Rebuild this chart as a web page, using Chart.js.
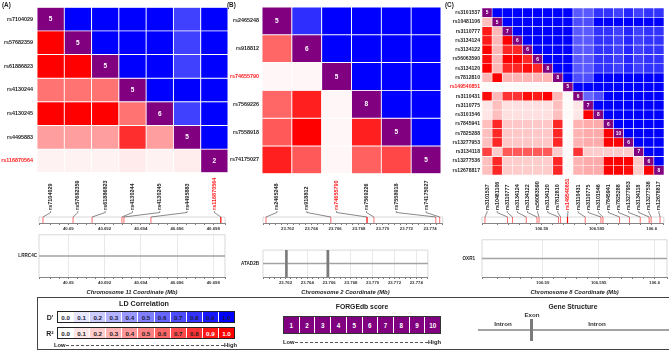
<!DOCTYPE html>
<html><head><meta charset="utf-8">
<script src="https://cdn.jsdelivr.net/npm/chart.js@4.4.1/dist/chart.umd.min.js"></script>
<style>
html,body{margin:0;padding:0;background:#fff;}
body{width:669px;height:351px;position:relative;overflow:hidden;font-family:"Liberation Sans",Arial,sans-serif;}
canvas{position:absolute;}
.t{position:absolute;font-weight:bold;color:#222;white-space:nowrap;line-height:1;}
</style></head><body>
<script>
// ---------------- DATA ----------------
// Panel A (chr11, LRRC4C)
const snpsA = ['rs7104029','rs57682359','rs61886823','rs4130244','rs4130245','rs4495883','rs116870564'];
const posA = [40.68860,40.69026,40.69131,40.69296,40.69307,40.69456,40.69842];
const forgeA = [5,5,5,5,6,5,2];
const ldA = [ // upper triangle = D', lower triangle = R2
  [null,1,1,1,1,0.75,1],
  [1,null,1,1,1,0.75,1],
  [1,1,null,1,1,0.75,1],
  [0.55,0.55,0.55,null,1,1,1],
  [1,1,1,0.55,null,0.75,1],
  [0.38,0.38,0.38,0.82,0.38,null,1],
  [0.05,0.05,0.05,0.08,0.05,0.07,null]
];
const rangeA = [40.68838,40.69865];
const ticksA = [40.69,40.692,40.694,40.696,40.698];
const tickLabelsA = ['40.69','40.692','40.694','40.696','40.698'];
const geneA = 'LRRC4C';
const exonsA = [];
const titleA = 'Chromosome 11 Coordinate (Mb)';

// Panel B (chr2, ATAD2B)
const snpsB = ['rs2465248','rs918812','rs74655790','rs7569226','rs7558918','rs74175027'];
const posB = [23.76018,23.76564,23.76869,23.76927,23.77448,23.77481];
const forgeB = [5,6,5,8,5,5];
const ldB = [
  [null,0.82,1,1,1,1],
  [0.6,null,1,1,1,1],
  [0.03,0.03,null,1,1,1],
  [0.6,0.88,0.03,null,1,1],
  [0.65,1,0.03,0.88,null,1],
  [0.88,0.65,0.03,0.62,0.72,null]
];
const rangeB = [23.75993,23.77507];
const ticksB = [23.762,23.764,23.766,23.768,23.770,23.772,23.774];
const tickLabelsB = ['23.762','23.764','23.766','23.768','23.770','23.772','23.774'];
const geneB = 'ATAD2B';
const exonsB = [23.76208,23.76588];
const titleB = 'Chromosome 2 Coordinate (Mb)';

// Panel C (chr8, OXR1)
const snpsC = ['rs3101537','rs10481106','rs3110777','rs3134124','rs3134122','rs56063590','rs3134120','rs7812810','rs149540851',
  'rs3110431','rs3110775','rs3101546','rs7845941','rs7825288','rs13277953','rs3134118','rs13277536','rs12678817'];
const posC = [106.58485,106.58690,106.58735,106.58860,106.58958,106.58976,106.59154,106.59172,106.59235,
  106.59396,106.59539,106.59557,106.59708,106.59798,106.59896,106.59977,106.59995,106.60076];
const forgeC = [5,5,7,6,6,6,8,8,5,6,7,8,6,10,6,7,6,8];
const ldC = [
  [null,1,1,1,1,1,1,1,1,0.65,0.65,0.8,0.8,0.75,0.85,0.75,0.8,0.8],
  [0.25,null,1,1,1,1,1,1,1,0.7,0.7,1,1,1,1,1,1,1],
  [0.9,0.28,null,1,1,1,1,1,1,0.65,0.65,0.8,0.8,0.75,0.85,0.75,0.8,0.8],
  [0.9,0.28,1,null,1,1,1,1,1,0.65,0.65,0.8,0.8,0.75,0.85,0.75,0.8,0.8],
  [1,0.28,0.85,0.85,null,1,1,1,1,0.65,0.65,0.8,0.8,0.75,0.85,0.75,0.8,0.8],
  [0.95,0.28,1,1,0.85,null,1,1,1,0.65,0.65,0.8,0.8,0.75,0.85,0.75,0.8,0.8],
  [1,0.28,0.85,0.85,0.95,0.85,null,1,1,0.65,0.65,0.8,0.8,0.75,0.85,0.75,0.8,0.8],
  [0.28,1,0.3,0.3,0.3,0.3,0.3,null,1,0.7,0.7,1,1,1,1,1,1,1],
  [0.02,0.02,0.02,0.02,0.02,0.02,0.02,0.02,null,1,1,1,1,1,1,1,1,1],
  [0.95,0.28,0.8,0.8,0.95,0.9,1,0.28,0.02,null,0.6,0.7,1,1,1,1,1,1],
  [0.1,0.25,0.12,0.12,0.12,0.12,0.12,0.25,0.02,0.1,null,1,1,1,1,1,1,1],
  [0.1,0.25,0.12,0.12,0.12,0.12,0.12,0.25,0.02,0.1,1,null,1,1,1,1,1,1],
  [0.25,0.85,0.22,0.22,0.22,0.22,0.22,0.85,0.02,0.3,0.33,0.33,null,1,1,1,1,1],
  [0.25,0.85,0.22,0.22,0.22,0.22,0.22,0.85,0.02,0.3,0.33,0.33,1,null,1,1,1,1],
  [0.25,0.85,0.22,0.22,0.22,0.22,0.22,0.85,0.02,0.3,0.33,0.33,1,1,null,1,1,1],
  [0.75,0.2,0.65,0.65,0.65,0.65,0.65,0.2,0.02,0.8,0.2,0.2,0.2,0.2,0.2,null,1,1],
  [0.25,0.85,0.2,0.2,0.2,0.2,0.2,0.85,0.02,0.3,0.33,0.33,1,1,1,0.22,null,1],
  [0.25,0.85,0.2,0.2,0.2,0.2,0.2,0.85,0.02,0.3,0.33,0.33,1,1,0.95,0.2,1,null]
];
const rangeC = [106.58458,106.6011];
const ticksC = [106.585,106.59,106.595,106.6];
const tickLabelsC = ['106.585','106.59','106.595','106.6'];
const geneC = 'OXR1';
const exonsC = [];
const titleC = 'Chromosome 8 Coordinate (Mb)';

// Legend scales
const ldSteps = [0.0,0.1,0.2,0.3,0.4,0.5,0.6,0.7,0.8,0.9,1.0];
const forgeSteps = [1,2,3,4,5,6,7,8,9,10];

// ---------------- RENDER ----------------
const FONT = '"Liberation Sans", Arial, sans-serif';
Chart.defaults.font.family = FONT;
const PURPLE = '#800080';
const RED_TXT = '#ff1a1a';

function mk(left, top, w, h){
  const c = document.createElement('canvas');
  c.width = w; c.height = h;
  c.style.left = left+'px'; c.style.top = top+'px';
  c.style.width = w+'px'; c.style.height = h+'px';
  document.body.appendChild(c);
  return c;
}
function txt(s, x, y, size, opt){
  opt = opt || {};
  const d = document.createElement('div');
  d.className = 't';
  d.textContent = s;
  d.style.fontSize = size+'px';
  d.style.left = x+'px'; d.style.top = y+'px';
  const ax = opt.align==='left' ? '0' : (opt.align==='right' ? '-100%' : '-50%');
  d.style.transform = `translate(${ax},-50%)`;
  if (opt.color) d.style.color = opt.color;
  if (opt.weight) d.style.fontWeight = opt.weight;
  document.body.appendChild(d);
  return d;
}
function heatColor(r, c, v){
  if (r === c) return PURPLE;
  const k = Math.round(255*(1-v));
  return c > r ? `rgb(${k},${k},255)` : `rgb(255,${k},${k})`;
}
const baseOpts = {responsive:false, animation:false, devicePixelRatio:1, events:[],
  plugins:{legend:{display:false}, tooltip:{enabled:false}}};

function makeHeat(p){
  const L = p.L.heat, n = p.snps.length;
  const cv = mk(L.left, 0, L.w, 180);
  const datasets = p.ld.map((row, r) => ({
    data: row.map(() => [r-0.5, r+0.5]),
    backgroundColor: row.map((v, c) => heatColor(r, c, v)),
    borderColor:'#ffffff', borderWidth:p.gap, borderSkipped:false,
    barPercentage:1, categoryPercentage:1, grouped:false
  }));
  return new Chart(cv, {
    type:'bar',
    data:{labels:p.snps, datasets},
    options:Object.assign({}, baseOpts, {
      layout:{padding:{top:L.top, right:L.right, bottom:L.bottom, left:0}},
      scales:{
        x:{type:'category', display:false, offset:true},
        y:{type:'linear', reverse:true, min:-0.5, max:n-0.5,
          afterBuildTicks:s => { s.ticks = p.snps.map((_, i) => ({value:i})); },
          afterFit:s => { s.width = L.yw; },
          grid:{display:false, drawTicks:false}, border:{display:false},
          ticks:{padding:L.pad, font:{size:p.rowFont, weight:'bold'},
            color:ctx => (ctx.tick && Math.round(ctx.tick.value) === p.lead) ? RED_TXT : '#1e1e1e',
            callback:v => p.snps[Math.round(v)]}
        }
      }
    }),
    plugins:[{id:'diag', afterDatasetsDraw(ch){
      const ctx = ch.ctx; ctx.save();
      ctx.fillStyle = '#fff'; ctx.font = `bold ${p.diagFont}px ${FONT}`;
      ctx.textAlign = 'center'; ctx.textBaseline = 'middle';
      p.forge.forEach((f, i) => {
        const el = ch.getDatasetMeta(i).data[i];
        ctx.fillText(String(f), el.x, (el.y + el.base)/2 + 0.3);
      });
      ctx.restore();
    }}]
  });
}

function isMajor(p, v){ return p.majors.some(m => Math.abs(m - v) < p.minor/10); }
function axisX(p, gene){
  return {type:'linear', min:p.range[0], max:p.range[1],
    afterFit:s => { s.height = gene ? 23 : 9; },
    ticks:{stepSize:p.minor, autoSkip:false, maxRotation:0, minRotation:0, padding:1,
      font:{size:4.3, weight:'bold'}, color:'#333',
      callback:v => { const k = p.majors.findIndex(m => Math.abs(m - v) < p.minor/10); return k < 0 ? '' : p.majorLabels[k]; }},
    grid:{drawOnChartArea:gene, drawTicks:true, tickLength:2, lineWidth:0.8,
      color:ctx => (ctx.tick && isMajor(p, ctx.tick.value)) ? '#e3e3e3' : 'rgba(0,0,0,0)',
      tickColor:'#555'},
    border:{color:'#666', width:0.8},
    title: gene ? {display:true, text:p.title, color:'#1e1e1e', font:{size:5.8, weight:'bold', style:'italic'}, padding:{top:1, bottom:4}} : {display:false}
  };
}
const boxPlugin = {id:'box', beforeDatasetsDraw(ch){
  const a = ch.chartArea, ctx = ch.ctx; ctx.save();
  ctx.strokeStyle = '#cfcfcf'; ctx.lineWidth = 0.8;
  ctx.beginPath();
  ctx.moveTo(a.left, a.bottom); ctx.lineTo(a.left, a.top); ctx.lineTo(a.right, a.top); ctx.lineTo(a.right, a.bottom);
  ctx.stroke(); ctx.restore();
}};

function makeSnp(p, heat){
  const L = p.L.snp;
  const cv = mk(L.left, 176, L.w, 56);
  return new Chart(cv, {
    type:'scatter',
    data:{datasets:[{
      data:p.pos.map(x => ({x, y:0.5})),
      pointStyle:'line', rotation:90, pointRadius:3,
      pointBorderColor:p.pos.map((_, i) => i === p.lead ? '#ff0000' : '#ff5a5a'),
      pointBorderWidth:p.pos.map((_, i) => i === p.lead ? 1.2 : 0.9)
    }]},
    options:Object.assign({}, baseOpts, {
      layout:{padding:{top:41, left:L.pl, right:L.pr, bottom:0}},
      scales:{x:axisX(p, false), y:{display:false, min:0, max:1}}
    }),
    plugins:[boxPlugin, {id:'snplab', afterDraw(ch){
      const ctx = ch.ctx, xs = ch.scales.x, top = ch.chartArea.top;
      const dx = p.L.heat.left - L.left;
      ctx.save();
      ctx.font = `bold ${p.colFont}px ${FONT}`;
      p.snps.forEach((s, i) => {
        const cx = heat.scales.x.getPixelForValue(i) + dx;
        const sx = xs.getPixelForValue(p.pos[i]);
        const by = top - 6;
        ctx.strokeStyle = '#3a3a3a'; ctx.lineWidth = 0.6;
        ctx.beginPath(); ctx.moveTo(cx, by); ctx.lineTo(cx, by + 1.5); ctx.lineTo(sx, top); ctx.stroke();
        ctx.save();
        ctx.translate(cx, by - 1); ctx.rotate(-Math.PI/2);
        ctx.fillStyle = i === p.lead ? RED_TXT : '#1e1e1e';
        ctx.textAlign = 'left'; ctx.textBaseline = 'middle';
        ctx.fillText(s, 0, 0);
        ctx.restore();
      });
      ctx.restore();
    }}]
  });
}

function makeGene(p){
  const L = p.L.gene;
  const cv = mk(L.left, 230, L.w, 70);
  return new Chart(cv, {
    type:'scatter',
    data:{datasets:[
      {data:p.exons.map(x => ({x, y:0})), pointStyle:'line', rotation:90, pointRadius:17.5,
        pointBorderColor:'#7a7a7a', pointBorderWidth:2.6},
      {data:p.range.map(x => ({x, y:0})), showLine:true, borderColor:'#a3a3a3', borderWidth:1.5, pointRadius:0}
    ]},
    options:Object.assign({}, baseOpts, {
      layout:{padding:{top:2, left:0, right:L.pr, bottom:0}},
      scales:{
        x:axisX(p, true),
        y:{type:'linear', min:-1, max:1,
          afterBuildTicks:s => { s.ticks = [{value:0}]; },
          afterFit:s => { s.width = L.yw; },
          grid:{display:false, drawTicks:false}, border:{display:false},
          ticks:{padding:L.pad, font:{size:4.6, weight:'bold'}, color:'#1e1e1e', callback:() => p.gene}}
      }
    }),
    plugins:[boxPlugin]
  });
}

const panels = [
  {snps:snpsA, pos:posA, forge:forgeA, ld:ldA, lead:6, range:rangeA, majors:ticksA, majorLabels:tickLabelsA, minor:0.0005,
   gene:geneA, exons:exonsA, title:titleA, rowFont:5.4, colFont:5.5, diagFont:6.5, gap:0.8,
   L:{heat:{left:0, w:232, yw:37, pad:4, top:6, bottom:4, right:4}, snp:{left:0, w:232, pl:39, pr:7}, gene:{left:0, w:232, yw:39, pad:2, pr:7}}},
  {snps:snpsB, pos:posB, forge:forgeB, ld:ldB, lead:2, range:rangeB, majors:ticksB, majorLabels:tickLabelsB, minor:0.0005,
   gene:geneB, exons:exonsB, title:titleB, rowFont:5.4, colFont:5.5, diagFont:6.5, gap:0.8,
   L:{heat:{left:224, w:219, yw:38, pad:3, top:7, bottom:3, right:2}, snp:{left:232, w:216, pl:31, pr:3}, gene:{left:226, w:222, yw:37, pad:4, pr:3}}},
  {snps:snpsC, pos:posC, forge:forgeC, ld:ldC, lead:8, range:rangeC, majors:ticksC, majorLabels:tickLabelsC, minor:0.001,
   gene:geneC, exons:exonsC, title:titleC, rowFont:5.1, colFont:5.3, diagFont:4.8, gap:0.6,
   L:{heat:{left:444, w:225, yw:38, pad:2, top:8, bottom:2, right:5}, snp:{left:448, w:221, pl:34, pr:2}, gene:{left:448, w:221, yw:34, pad:7, pr:2}}}
];
panels.forEach(p => { const h = makeHeat(p); makeSnp(p, h); makeGene(p); });

txt('(A)', 2, 4.5, 6.3, {align:'left'});
txt('(B)', 227, 4.5, 6.3, {align:'left'});
txt('(C)', 445, 4.5, 6.3, {align:'left'});

// ---------------- LEGEND (HTML) ----------------
function div(css){ const d = document.createElement('div'); d.style.cssText = 'position:absolute;box-sizing:border-box;' + css; document.body.appendChild(d); return d; }
div('left:37px;top:297px;width:640px;height:53px;border:1px solid #444;');
txt('LD Correlation', 144, 304, 7.2);
function ldRow(top, isD){
  const row = div(`left:57px;top:${top}px;width:178px;height:12px;border:1px solid #222;display:flex;`);
  ldSteps.forEach((v, i) => {
    const k = Math.round(255*(1-v));
    const c = document.createElement('div');
    const bg = isD ? `rgb(${k},${k},255)` : `rgb(255,${k},${k})`;
    const col = isD ? '#1c1c3a' : (v >= 0.9 ? '#ffffff' : '#222');
    c.style.cssText = `flex:1;background:${bg};${i ? 'border-left:1px solid #fff;' : ''}font:bold 6.2px ${FONT};color:${col};display:flex;align-items:center;justify-content:center;`;
    c.textContent = v.toFixed(1);
    row.appendChild(c);
  });
}
ldRow(311, true);
ldRow(327, false);
txt("D'", 50, 317, 7);
txt('R²', 50, 333, 7);
function lowHigh(left, width, top){
  const d = div(`left:${left}px;top:${top}px;width:${width}px;height:8px;display:flex;align-items:center;font:bold 5.8px ${FONT};color:#222;`);
  const a = document.createElement('span'); a.textContent = 'Low';
  const m = document.createElement('span'); m.style.cssText = 'flex:1;border-top:1px dashed #555;margin:0 0.5px;height:0;';
  const b = document.createElement('span'); b.textContent = 'High';
  d.appendChild(a); d.appendChild(m); d.appendChild(b);
}
lowHigh(54, 183, 341);

txt('FORGEdb score', 362, 307, 6.8);
const fr = div(`left:283px;top:316px;width:158px;height:18px;border:1px solid #333;display:flex;background:${PURPLE};`);
forgeSteps.forEach((v, i) => {
  const c = document.createElement('div');
  c.style.cssText = `flex:1;${i ? 'border-left:1px solid #fff;' : ''}font:bold 6.3px ${FONT};color:#fff;display:flex;align-items:center;justify-content:center;`;
  c.textContent = String(v);
  fr.appendChild(c);
});
lowHigh(283, 158, 338);

txt('Gene Structure', 573, 307, 6.8);
div('left:478px;top:329px;width:191px;height:2px;background:#a3a3a3;');
div('left:530px;top:319px;width:2.6px;height:22px;background:#7a7a7a;');
txt('Exon', 532, 315, 6.2, {weight:'bold', color:'#333'});
txt('Intron', 503, 324, 6.2, {weight:'bold', color:'#333'});
txt('Intron', 597, 324, 6.2, {weight:'bold', color:'#333'});
</script>
</body></html>
